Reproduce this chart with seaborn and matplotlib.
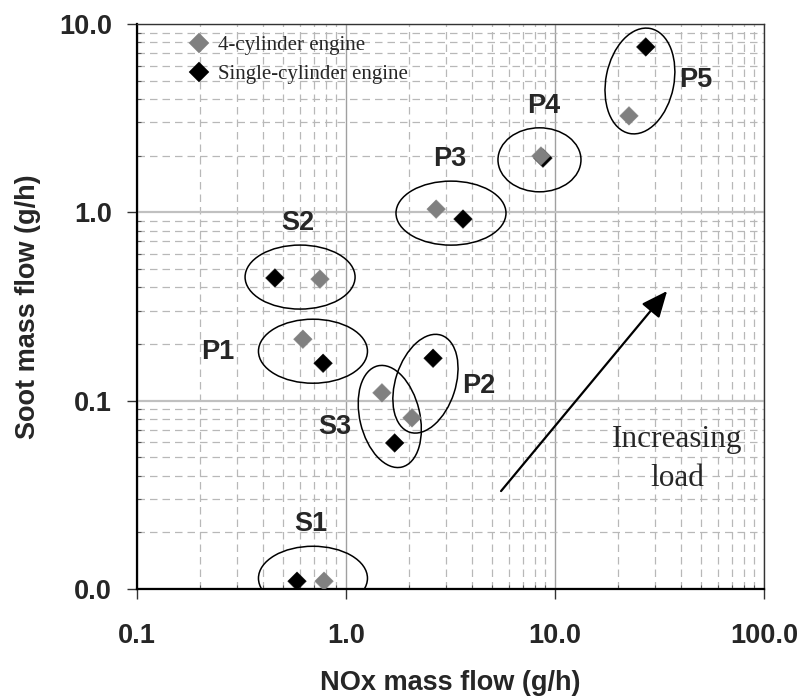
import numpy as np
import pandas as pd
import matplotlib
matplotlib.use("Agg")
import matplotlib.pyplot as plt
import seaborn as sns
from matplotlib.patches import Ellipse
from matplotlib.transforms import ScaledTranslation
from matplotlib.ticker import FixedLocator, LogLocator, NullFormatter

# ---------------- data ----------------
points = ["S1", "P1", "S2", "S3", "P2", "P3", "P4", "P5"]
nox_4cyl = [0.785, 0.622, 0.751, 1.486, 2.07, 2.70, 8.57, 22.6]
soot_4cyl = [0.0110, 0.212, 0.442, 0.110, 0.081, 1.04, 1.99, 3.25]
nox_1cyl = [0.583, 0.777, 0.457, 1.71, 2.61, 3.63, 8.76, 27.2]
soot_1cyl = [0.0110, 0.158, 0.448, 0.0596, 0.168, 0.921, 1.94, 7.55]
engines = ["4-cylinder engine", "Single-cylinder engine"]

x_ticks = [0.1, 1.0, 10.0, 100.0]
x_ticklabels = ["0.1", "1.0", "10.0", "100.0"]
y_ticks = [0.01, 0.1, 1.0, 10.0]
y_ticklabels = ["0.0", "0.1", "1.0", "10.0"]

# group ellipses: center (data), width/height (inches), angle (deg)
ellipses = {
    "S1": (0.695, 0.0114, 1.09, 0.64, 0),
    "P1": (0.695, 0.183, 1.09, 0.64, 0),
    "S2": (0.603, 0.453, 1.10, 0.64, 0),
    "S3": (1.62, 0.0824, 1.04, 0.60, 103.4),
    "P2": (2.40, 0.123, 1.02, 0.60, 72),
    "P3": (3.18, 0.99, 1.10, 0.64, 0),
    "P4": (8.43, 1.90, 0.83, 0.64, 0),
    "P5": (25.5, 4.98, 1.07, 0.68, 78.8),
}
# group label positions (data)
label_pos = {
    "S1": (0.680, 0.0220),
    "S2": (0.589, 0.877),
    "P1": (0.244, 0.181),
    "S3": (0.886, 0.0724),
    "P2": (4.30, 0.1197),
    "P3": (3.15, 1.91),
    "P4": (8.81, 3.67),
    "P5": (47.0, 5.04),
}
arrow_start = (5.52, 0.0331)
arrow_end = (34.4, 0.382)
note_pos = (38.4, 0.049)

# ---------------- frame ----------------
df = pd.DataFrame({
    "nox": nox_1cyl + nox_4cyl,
    "soot": soot_1cyl + soot_4cyl,
    "engine": [engines[1]] * len(nox_1cyl) + [engines[0]] * len(nox_4cyl),
})

sns.set_style("white")
plt.rcParams["font.family"] = ["Liberation Sans", "DejaVu Sans"]

fig = plt.figure(figsize=(8.04, 6.99), dpi=100)
ax = fig.add_axes([0.1704, 0.1574, 0.7798, 0.8083])
ax.set_xscale("log")
ax.set_yscale("log")

sns.scatterplot(
    data=df, x="nox", y="soot", hue="engine", style="engine",
    hue_order=engines, style_order=engines,
    palette={engines[0]: "#808080", engines[1]: "#000000"},
    markers={engines[0]: "D", engines[1]: "D"},
    s=90, linewidth=0.3, edgecolor="face", ax=ax, zorder=5,
)

ax.set_xlim(0.1, 100)
ax.set_ylim(0.01, 10)

# grid
ax.xaxis.set_minor_locator(LogLocator(base=10, subs=np.arange(2, 10)))
ax.yaxis.set_minor_locator(LogLocator(base=10, subs=np.arange(2, 10)))
ax.xaxis.set_minor_formatter(NullFormatter())
ax.yaxis.set_minor_formatter(NullFormatter())
ax.grid(which="minor", axis="both", color="#b8b8b8", linestyle=(0, (6, 4)), linewidth=0.9, zorder=0)
ax.grid(which="major", axis="x", color="#a0a0a0", linestyle="-", linewidth=1.0, zorder=0)
ax.grid(which="major", axis="y", color="#c0c0c0", linestyle="-", linewidth=1.6, zorder=0)
ax.set_axisbelow(True)

ax.xaxis.set_major_locator(FixedLocator(x_ticks))
ax.yaxis.set_major_locator(FixedLocator(y_ticks))
ax.set_xticklabels(x_ticklabels)
ax.set_yticklabels(y_ticklabels)
ax.tick_params(which="major", direction="out", length=7, width=1.0, color="#333333",
               labelsize=19.5, bottom=True, left=True)
ax.tick_params(which="major", axis="x", pad=17.5)
ax.tick_params(which="major", axis="y", pad=11)
ax.tick_params(which="minor", direction="in", length=3, width=0.8, color="#555555",
               bottom=True, left=True)
for lab in ax.get_xticklabels() + ax.get_yticklabels():
    lab.set_fontweight("bold")

for side in ["left", "bottom"]:
    ax.spines[side].set_color("black")
    ax.spines[side].set_linewidth(1.6)
for side in ["top", "right"]:
    ax.spines[side].set_color("#333333")
    ax.spines[side].set_linewidth(1.0)

ax.set_xlabel("NOx mass flow (g/h)", fontsize=19.5, fontweight="bold", labelpad=15)
ax.set_ylabel("Soot mass flow (g/h)", fontsize=19.5, fontweight="bold", labelpad=13)

# ellipses
for name, (cx, cy, w, h, ang) in ellipses.items():
    tr = fig.dpi_scale_trans + ScaledTranslation(cx, cy, ax.transData)
    e = Ellipse((0, 0), w, h, angle=ang, transform=tr, fill=False,
                edgecolor="black", linewidth=1.1, zorder=4)
    ax.add_patch(e)

# group labels
for name, (lx, ly) in label_pos.items():
    ax.text(lx, ly, name, fontsize=19.5, fontweight="bold", ha="center", va="center", zorder=6)

# arrow and note
ax.annotate("", xy=arrow_end, xytext=arrow_start,
            arrowprops=dict(arrowstyle="-|>,head_length=0.8,head_width=0.35",
                            color="black", lw=1.6, mutation_scale=20, shrinkA=0, shrinkB=0),
            zorder=6)
ax.text(note_pos[0], note_pos[1], "Increasing\nload", fontsize=22.5,
        family=["Liberation Serif", "DejaVu Serif"], ha="center", va="center",
        multialignment="center", linespacing=1.45, zorder=6)

# legend
handles, labels = ax.get_legend_handles_labels()
leg = ax.legend(handles, labels, loc="upper left", bbox_to_anchor=(0.082, 0.979),
                frameon=False, prop={"family": ["Liberation Serif", "DejaVu Serif"], "size": 15},
                handlelength=1.0, handletextpad=0.4, labelspacing=0.43, borderpad=0,
                borderaxespad=0, markerscale=1.1)
leg.set_zorder(7)

fig.savefig("out.png", dpi=100)
